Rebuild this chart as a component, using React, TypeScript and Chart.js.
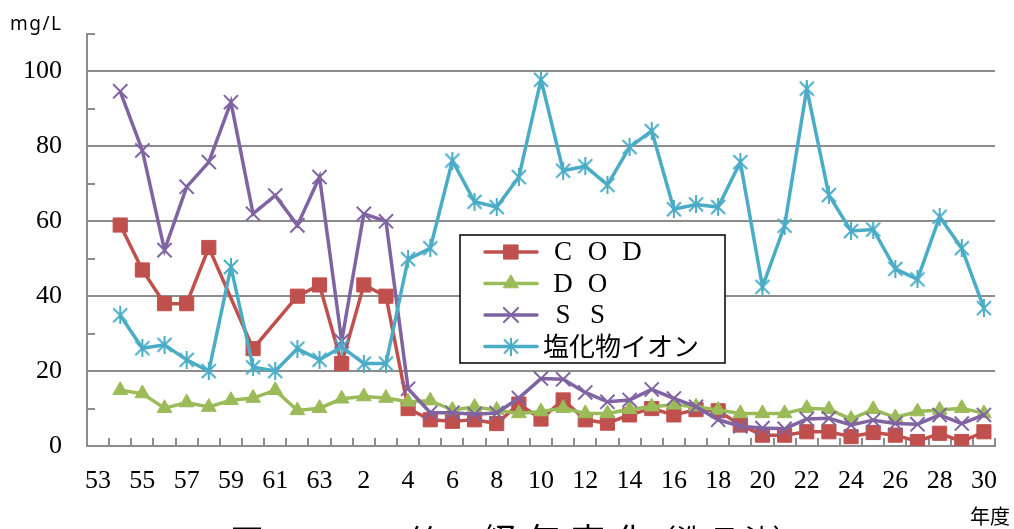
import React, { useEffect, useRef } from 'react';
import { Chart, registerables } from 'chart.js';
import { drawPoint } from 'chart.js/helpers';

Chart.register(...registerables);

// 年度 (昭和53〜63, 平成1〜30)
const years = [
  '53', '54', '55', '56', '57', '58', '59', '60', '61', '62', '63',
  '1', '2', '3', '4', '5', '6', '7', '8', '9', '10',
  '11', '12', '13', '14', '15', '16', '17', '18', '19', '20',
  '21', '22', '23', '24', '25', '26', '27', '28', '29', '30',
];

const seriesNames = ['ＣＯＤ', 'ＤＯ', 'ＳＳ', '塩化物イオン'];

const cod = [
  null, 59, 47, 38, 38, 53, null, 26, null, 40, 43,
  22, 43, 40, 10, 7, 6.6, 7, 6, 11.2, 7.2,
  12.3, 7, 6.1, 8.3, 10, 8.3, 9.7, 9.4, 5.6, 2.9,
  2.9, 3.8, 3.8, 2.5, 3.6, 2.9, 1.2, 3.4, 1.2, 3.8,
];

const doVals = [
  null, 14.9, 14, 10.1, 11.6, 10.4, 12.2, 12.8, 14.9, 9.5, 10.1,
  12.6, 13.2, 12.8, 11.8, 12.1, 9.6, 10.4, 9.6, 8.7, 9.2,
  10.1, 8.7, 8.7, 9.8, 10.5, 11, 10.5, 9.6, 8.7, 8.7,
  8.7, 10.1, 9.8, 7.2, 9.8, 7.6, 9.2, 9.6, 10.1, 8.7,
];

const ss = [
  null, 94.7, 78.9, 52.3, 69.2, 75.8, 91.8, 62, 66.9, 58.9, 71.8,
  28, 62, 60, 15.3, 8.9, 8.9, 8.5, 8.8, 12.8, 18,
  17.8, 14.3, 11.8, 12.3, 15.1, 12.7, 10.5, 7, 5.3, 4.8,
  4.6, 7.2, 7.4, 5.6, 6.9, 6, 5.8, 8.3, 6, 8.3,
];

const chloride = [
  null, 34.9, 26.1, 27, 23, 20, 47.8, 21, 20, 26, 23,
  26.5, 22, 22, 49.9, 52.8, 76.2, 65.2, 63.8, 71.8, 97.8,
  73.5, 74.7, 69.7, 79.8, 84.1, 63.2, 64.5, 63.8, 75.8, 42.5,
  58.8, 95.4, 67, 57.4, 57.8, 47.3, 44.5, 61.2, 52.8, 36.8,
];

const yMax = 110;
const yStep = 10;
const yLabelStep = 20;
const yUnit = 'mg/L';
const xUnit = '年度';
const captionHead = '図';
const captionMid = '第';
const captionTail = ['経', '年', '変', '化'];
const captionParen = '（洗 日 沈）';

const colors = ['#C0504D', '#9BBB59', '#8064A2', '#4BACC6'];
const gridColor = '#8c8c8c';

function makeStar(color: string): HTMLCanvasElement {
  const c = document.createElement('canvas');
  c.width = 18;
  c.height = 18;
  const g = c.getContext('2d')!;
  g.strokeStyle = color;
  g.lineWidth = 2;
  g.beginPath();
  g.moveTo(2, 2);
  g.lineTo(16, 16);
  g.moveTo(16, 2);
  g.lineTo(2, 16);
  g.moveTo(9, 0);
  g.lineTo(9, 18);
  g.stroke();
  return c;
}

function drawLegendLabel(ctx: CanvasRenderingContext2D, text: string, x: number, y: number) {
  let cx = x;
  ctx.fillStyle = '#000';
  ctx.textBaseline = 'middle';
  for (const ch of text) {
    const code = ch.charCodeAt(0);
    if (code >= 0xff01 && code <= 0xff5e) {
      const a = String.fromCharCode(code - 0xfee0);
      ctx.font = '27px "Liberation Serif", serif';
      ctx.textAlign = 'center';
      ctx.fillText(a, cx + 17, y + 1);
      cx += 34.5;
    } else {
      ctx.font = '26px "Noto Sans CJK JP", sans-serif';
      ctx.textAlign = 'left';
      ctx.fillText(ch, cx, y);
      cx += ctx.measureText(ch).width;
    }
  }
}

const decorPlugin = {
  id: 'decor',
  beforeDatasetsDraw(chart: any) {
    const ctx: CanvasRenderingContext2D = chart.ctx;
    const xs = chart.scales.x;
    const ys = chart.scales.y;
    ctx.save();
    ctx.strokeStyle = gridColor;
    ctx.lineWidth = 2;
    ctx.beginPath();
    for (let v = 0; v <= yMax; v += yStep) {
      const py = Math.round(ys.getPixelForValue(v));
      ctx.moveTo(xs.left, py);
      ctx.lineTo(xs.left + 8, py);
    }
    const n = years.length;
    const w = (xs.right - xs.left) / n;
    for (let i = 0; i <= n; i++) {
      const px = Math.round(xs.left + i * w);
      ctx.moveTo(px, ys.bottom);
      ctx.lineTo(px, ys.bottom - 8);
    }
    ctx.stroke();
    ctx.restore();
  },
  afterDraw(chart: any) {
    const ctx: CanvasRenderingContext2D = chart.ctx;
    ctx.save();
    // legend
    const lx = 460, ly = 235, lw = 265, lh = 128;
    ctx.fillStyle = '#fff';
    ctx.fillRect(lx, ly, lw, lh);
    ctx.strokeStyle = '#000';
    ctx.lineWidth = 1.5;
    ctx.strokeRect(lx, ly, lw, lh);
    chart.data.datasets.forEach((ds: any, k: number) => {
      const y = 252 + k * 31.5;
      ctx.strokeStyle = ds.borderColor;
      ctx.lineWidth = 3.5;
      ctx.lineCap = 'round';
      ctx.beginPath();
      ctx.moveTo(485, y);
      ctx.lineTo(537, y);
      ctx.stroke();
      ctx.fillStyle = ds.pointBackgroundColor;
      ctx.strokeStyle = ds.pointBorderColor;
      ctx.lineWidth = ds.pointBorderWidth;
      drawPoint(ctx, {
        pointStyle: ds.pointStyle,
        rotation: ds.pointRotation || 0,
        radius: ds.pointRadius,
        borderWidth: ds.pointBorderWidth,
      } as any, 511, y);
      drawLegendLabel(ctx, ds.label, k === 3 ? 543 : 546, y);
    });
    // units
    ctx.fillStyle = '#000';
    ctx.textBaseline = 'alphabetic';
    ctx.textAlign = 'left';
    ctx.font = '19px "Noto Sans", sans-serif';
    (ctx as any).letterSpacing = '1.5px';
    ctx.fillText(yUnit, 10, 30);
    (ctx as any).letterSpacing = '0px';
    ctx.font = '20px "Noto Sans CJK JP", sans-serif';
    ctx.fillText(xUnit, 970, 524);
    // caption (cut off by the page bottom)
    ctx.font = '34px "Noto Sans CJK JP", sans-serif';
    ctx.fillText(captionHead, 230, 555);
    ctx.fillText(captionMid, 410, 555);
    captionTail.forEach((c, i) => ctx.fillText(c, 483 + i * 44, 553));
    ctx.font = '28px "Noto Sans CJK JP", sans-serif';
    ctx.fillText(captionParen, 648, 550);
    ctx.restore();
  },
};

export default function App() {
  const ref = useRef<HTMLCanvasElement | null>(null);
  useEffect(() => {
    if (!ref.current) return;
    const star = makeStar(colors[3]);
    const chart = new Chart(ref.current, {
      type: 'line',
      data: {
        labels: years,
        datasets: [
          {
            label: seriesNames[0], data: cod, borderColor: colors[0], backgroundColor: colors[0],
            pointBackgroundColor: colors[0], pointBorderColor: colors[0], pointStyle: 'rect',
            pointRadius: 10, pointBorderWidth: 1, borderWidth: 3.5, spanGaps: true, order: 4,
          },
          {
            label: seriesNames[1], data: doVals, borderColor: colors[1], backgroundColor: colors[1],
            pointBackgroundColor: colors[1], pointBorderColor: colors[1], pointStyle: 'triangle',
            pointRadius: 8.5, pointBorderWidth: 1, borderWidth: 3.5, spanGaps: true, order: 3,
          },
          {
            label: seriesNames[2], data: ss, borderColor: colors[2], backgroundColor: colors[2],
            pointBackgroundColor: colors[2], pointBorderColor: colors[2], pointStyle: 'crossRot',
            pointRadius: 10, pointBorderWidth: 2, borderWidth: 3.5, spanGaps: true, order: 2,
          },
          {
            label: seriesNames[3], data: chloride, borderColor: colors[3], backgroundColor: colors[3],
            pointBackgroundColor: colors[3], pointBorderColor: colors[3], pointStyle: star as any,
            pointRadius: 9, pointBorderWidth: 2, borderWidth: 3.5, spanGaps: true, order: 1,
          },
        ] as any,
      },
      options: {
        responsive: false,
        animation: false,
        events: [],
        layout: { padding: { top: 34, right: 19, left: 0, bottom: 0 } },
        plugins: { legend: { display: false }, tooltip: { enabled: false } },
        elements: { line: { tension: 0 } },
        scales: {
          x: {
            type: 'category',
            offset: true,
            grid: { display: false, drawTicks: false },
            border: { display: true, color: gridColor, width: 2 },
            ticks: {
              autoSkip: false,
              maxRotation: 0,
              minRotation: 0,
              padding: 20,
              color: '#000',
              font: { family: '"Liberation Serif", serif', size: 26 },
              callback: (_v: any, i: number) => (i % 2 === 0 ? years[i] : ''),
            },
            afterFit: (s: any) => { s.height = 83; s.paddingLeft = 0; s.paddingRight = 0; },
          },
          y: {
            min: 0,
            max: yMax,
            grid: {
              drawTicks: false,
              lineWidth: 2,
              color: (c: any) => {
                const v = c.tick?.value;
                return v % yLabelStep === 0 && v !== 0 ? gridColor : 'rgba(0,0,0,0)';
              },
            },
            border: { display: true, color: gridColor, width: 2 },
            ticks: {
              stepSize: yStep,
              padding: 25,
              color: '#000',
              font: { family: '"Liberation Serif", serif', size: 26 },
              callback: (v: any) => (Number(v) % yLabelStep === 0 ? String(v) : ''),
            },
            afterFit: (s: any) => { s.width = 87; s.paddingTop = 0; s.paddingBottom = 0; },
          },
        },
      },
      plugins: [decorPlugin],
    });
    return () => chart.destroy();
  }, []);
  return (
    <div style={{ position: 'absolute', left: 0, top: 0, width: 1014, height: 529, overflow: 'hidden', background: '#fff' }}>
      <canvas ref={ref} width={1014} height={529} style={{ display: 'block' }} />
    </div>
  );
}
